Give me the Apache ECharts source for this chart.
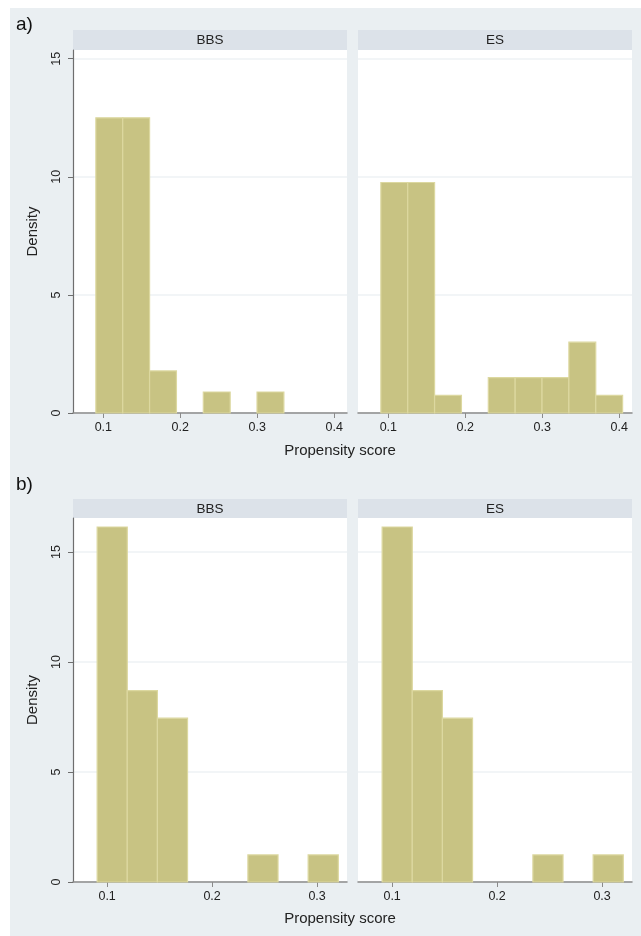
<!DOCTYPE html>
<html>
<head>
<meta charset="utf-8">
<script src="https://cdn.jsdelivr.net/npm/echarts@6/dist/echarts.min.js"></script>
<style>
  html, body { margin: 0; padding: 0; background: #fff; }
  #chart { width: 641px; height: 936px; }
</style>
</head>
<body>
<div id="chart"></div>
<script>
// histogram bins (propensity score) and densities
const binsA = [0.0903, 0.1252, 0.1601, 0.1950, 0.2299, 0.2648, 0.2997, 0.3346, 0.3695, 0.4044]
const densA_BBS = [12.5, 12.5, 1.78, 0, 0.89, 0, 0.89, 0, 0]
const densA_ES = [9.76, 9.76, 0.75, 0, 1.5, 1.5, 1.5, 3.0, 0.75]

const binsB = [0.0905, 0.1192, 0.1479, 0.1766, 0.2053, 0.2341, 0.2628, 0.2915, 0.3202]
const densB_BBS = [16.14, 8.7, 7.45, 0, 0, 1.23, 0, 1.23]
const densB_ES = [16.14, 8.7, 7.45, 0, 0, 1.23, 0, 1.23]

const xTicksA = [0.1, 0.2, 0.3, 0.4]
const xTicksB = [0.1, 0.2, 0.3]
const yTicks = [0, 5, 10, 15]
const panelNames = ['BBS', 'ES']

const FONT = '"Liberation Sans", Arial, sans-serif'
const BG = '#eaeff2'
const STRIP = '#dce2e9'
const BAR = '#c8c383'
const BAR_EDGE = '#dcd8a0'

const chart = echarts.init(document.getElementById('chart'))

function toBins (edges, dens) {
  const out = []
  for (let i = 0; i < dens.length; i++) {
    if (dens[i] > 0) out.push([edges[i], edges[i + 1], dens[i]])
  }
  return out
}

// pixel layout of the four panels
const panels = [
  { left: 73, top: 50, height: 363, xmin: 0.0606, xmax: 0.4166, ymax: 15.37, ticks: xTicksA, data: toBins(binsA, densA_BBS), yaxis: true },
  { left: 358, top: 50, height: 363, xmin: 0.0606, xmax: 0.4166, ymax: 15.37, ticks: xTicksA, data: toBins(binsA, densA_ES), yaxis: false },
  { left: 73, top: 518, height: 364, xmin: 0.0675, xmax: 0.3285, ymax: 16.55, ticks: xTicksB, data: toBins(binsB, densB_BBS), yaxis: true },
  { left: 358, top: 518, height: 364, xmin: 0.0675, xmax: 0.3285, ymax: 16.55, ticks: xTicksB, data: toBins(binsB, densB_ES), yaxis: false }
]
const panelWidth = 274

const grid = []
const xAxis = []
const yAxis = []
const series = []

panels.forEach((p, i) => {
  grid.push({
    left: p.left, top: p.top, width: panelWidth, height: p.height,
    show: true, backgroundColor: '#fff', borderWidth: 0
  })
  xAxis.push({
    type: 'value', gridIndex: i, min: p.xmin, max: p.xmax,
    axisLine: { show: true, lineStyle: { color: '#8a8a8a', width: 1.5 } },
    axisTick: { show: true, length: 5, lineStyle: { color: '#8a8a8a' }, customValues: p.ticks },
    axisLabel: {
      customValues: p.ticks, margin: 8, color: '#222', fontSize: 12.5, fontFamily: FONT,
      formatter: v => v.toFixed(1)
    },
    splitLine: { show: false }
  })
  yAxis.push({
    type: 'value', gridIndex: i, min: 0, max: p.ymax,
    name: p.yaxis ? 'Density' : '', nameLocation: 'middle', nameGap: 33, nameRotate: 90,
    nameTextStyle: { color: '#222', fontSize: 15, fontFamily: FONT },
    axisLine: { show: p.yaxis, lineStyle: { color: '#6e6e6e', width: 1.2 } },
    axisTick: { show: p.yaxis, length: 5, lineStyle: { color: '#6e6e6e' }, customValues: yTicks },
    axisLabel: {
      show: p.yaxis, customValues: yTicks, rotate: 90, margin: 10,
      color: '#222', fontSize: 12.5, fontFamily: FONT
    },
    splitLine: { show: true, lineStyle: { color: '#eef2f5', width: 1.5 } },
    splitNumber: 3, interval: 5
  })
  series.push({
    type: 'custom', xAxisIndex: i, yAxisIndex: i,
    encode: { x: [0, 1], y: 2 },
    data: p.data,
    renderItem: function (params, api) {
      const lo = api.coord([api.value(0), 0])
      const hi = api.coord([api.value(1), api.value(2)])
      return {
        type: 'rect',
        shape: { x: lo[0], y: hi[1], width: hi[0] - lo[0], height: lo[1] - hi[1] },
        style: { fill: BAR, stroke: BAR_EDGE, lineWidth: 1.2 }
      }
    }
  })
})

const graphic = [
  { type: 'rect', z: -10, shape: { x: 10, y: 8, width: 631, height: 928 }, style: { fill: BG } },
  { type: 'text', x: 16, y: 25, style: { text: 'a)', font: '19px ' + FONT, fill: '#111', textVerticalAlign: 'middle' } },
  { type: 'text', x: 16, y: 485, style: { text: 'b)', font: '19px ' + FONT, fill: '#111', textVerticalAlign: 'middle' } },
  { type: 'text', x: 340, y: 451, style: { text: 'Propensity score', font: '15px ' + FONT, fill: '#222', textAlign: 'center', textVerticalAlign: 'middle' } },
  { type: 'text', x: 340, y: 919, style: { text: 'Propensity score', font: '15px ' + FONT, fill: '#222', textAlign: 'center', textVerticalAlign: 'middle' } }
]
// header strips
const strips = [[73, 30], [358, 30], [73, 499], [358, 499]]
strips.forEach((s, i) => {
  graphic.push({ type: 'rect', z: -5, shape: { x: s[0], y: s[1], width: panelWidth, height: 20 }, style: { fill: STRIP } })
  graphic.push({
    type: 'text', x: s[0] + panelWidth / 2, y: s[1] + 10,
    style: { text: panelNames[i % 2], font: '13.5px ' + FONT, fill: '#222', textAlign: 'center', textVerticalAlign: 'middle' }
  })
})

chart.setOption({
  backgroundColor: '#fff',
  animation: false,
  grid: grid,
  xAxis: xAxis,
  yAxis: yAxis,
  series: series,
  graphic: graphic
})
</script>
</body>
</html>
